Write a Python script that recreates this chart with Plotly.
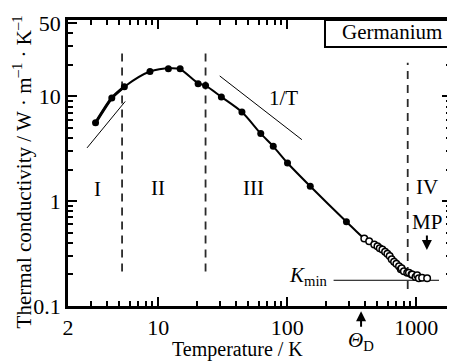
import numpy as np
import plotly.graph_objects as go

# ---- data ----
filled_T = [3.27, 4.37, 5.47, 8.64, 12.0, 14.8, 20.4, 23.3, 30.9, 44.6, 62.4, 78, 100.6, 151, 288]
filled_K = [5.6, 9.66, 12.4, 17.3, 18.4, 18.4, 13.2, 12.7, 9.9, 7.1, 4.42, 3.34, 2.32, 1.39, 0.637]

open_T = [396, 432, 473, 501, 522, 547, 574, 598, 623, 646, 674, 702, 736, 760, 771, 803,
          852, 879, 920, 931, 988, 1018, 1048, 1111, 1216]
open_K = [0.44, 0.416, 0.387, 0.372, 0.355, 0.347, 0.33, 0.315, 0.30, 0.279, 0.265, 0.253,
          0.24, 0.224, 0.229, 0.215, 0.208, 0.208, 0.20, 0.20, 0.189, 0.197, 0.184, 0.186, 0.184]

# smooth guide curve through the data
curve_T = [3.27, 4.37, 5.47, 8.64, 12.5, 14.8, 20.4, 23.3, 30.9, 44.6, 62.4, 78, 100.6, 151, 288,
           400, 520, 680, 850, 1000]
curve_K = [5.6, 9.66, 12.4, 17.3, 18.6, 18.2, 13.4, 12.7, 9.9, 7.1, 4.42, 3.34, 2.32, 1.39, 0.637,
           0.435, 0.355, 0.262, 0.212, 0.192]

# slope guide lines
low_T = [2.81, 5.55]
low_K = [3.23, 8.96]
invT_T = [30, 130]
invT_K = [15.7, 3.87]

kmin_T = [229, 1503]
kmin_K = [0.176, 0.176]

# region boundaries (dashed)
bound_T = [5.25, 23.3, 860]
bound_lo = [0.214, 0.214, 0.145]
bound_hi = [29, 29, 21]

region_labels = ["I", "II", "III", "IV"]
region_T = [3.4, 10, 55, 1216]
region_K = [1.3, 1.35, 1.35, 1.37]

theta_D = 374
melting_point = 1211

x_ticks = [2, 10, 100, 1000]
y_ticks = [0.1, 1, 10, 50]
x_minor = [3, 4, 5, 6, 7, 8, 9, 20, 30, 40, 50, 60, 70, 80, 90, 200, 300, 400, 500, 600, 700, 800, 900]
y_minor = [0.2, 0.3, 0.4, 0.5, 0.6, 0.7, 0.8, 0.9, 2, 3, 4, 5, 6, 7, 8, 9, 20, 30, 40]

FONT = "Liberation Serif"

fig = go.Figure()

# dashed region boundaries
for t, lo, hi in zip(bound_T, bound_lo, bound_hi):
    fig.add_trace(go.Scatter(x=[t, t], y=[lo, hi], mode="lines",
                             line=dict(color="#2a2a2a", width=1.8, dash="8px,6px"),
                             showlegend=False, hoverinfo="skip"))

# guide lines
fig.add_trace(go.Scatter(x=low_T, y=low_K, mode="lines", line=dict(color="black", width=1),
                         showlegend=False))
fig.add_trace(go.Scatter(x=invT_T, y=invT_K, mode="lines", line=dict(color="black", width=1),
                         showlegend=False))
fig.add_trace(go.Scatter(x=kmin_T, y=kmin_K, mode="lines", line=dict(color="black", width=1),
                         showlegend=False))

# smooth curve
fig.add_trace(go.Scatter(x=curve_T, y=curve_K, mode="lines",
                         line=dict(color="black", width=2, shape="spline", smoothing=0.8),
                         showlegend=False))
fig.add_trace(go.Scatter(x=curve_T[:3], y=curve_K[:3], mode="lines",
                         line=dict(color="black", width=3, shape="spline", smoothing=0.6),
                         showlegend=False))

# data
fig.add_trace(go.Scatter(x=filled_T, y=filled_K, mode="markers",
                         marker=dict(color="black", size=7), showlegend=False))
fig.add_trace(go.Scatter(x=open_T, y=open_K, mode="markers",
                         marker=dict(color="white", size=6.5, line=dict(color="black", width=1.5)),
                         showlegend=False))

txt = dict(family=FONT, size=21, color="black")
annotations = []
for lab, t, k in zip(region_labels, region_T, region_K):
    annotations.append(dict(x=np.log10(t), y=np.log10(k), xref="x", yref="y", text=lab,
                            xanchor="center", yanchor="middle", showarrow=False, font=txt))

annotations += [
    dict(x=np.log10(93), y=np.log10(9.7), xref="x", yref="y", text="1/T", showarrow=False,
         xanchor="center", yanchor="middle", font=txt),
    dict(x=np.log10(kmin_T[0]), y=np.log10(kmin_K[0]), xref="x", yref="y",
         text="<i>K</i><sub>min</sub>", showarrow=False, xanchor="right", yanchor="middle",
         xshift=-4, yshift=4, font=txt),
    dict(x=np.log10(theta_D), y=-0.018, xref="x", yref="paper",
         text="<i>Θ</i><sub>D</sub>", showarrow=True, ax=0, ay=30,
         arrowhead=2, arrowsize=1, arrowwidth=2, arrowcolor="black", font=txt),
    dict(x=np.log10(melting_point), y=0.196, xref="x", yref="paper",
         text="MP", showarrow=True, ax=0, ay=-28,
         arrowhead=2, arrowsize=1, arrowwidth=2, arrowcolor="black", font=txt),
    dict(x=0.846, y=0.958, xref="paper", yref="paper", text="Germanium", showarrow=False,
         xanchor="center", yanchor="middle", font=txt),
    dict(x=0.443, y=-0.153, xref="paper", yref="paper", text="Temperature / K", showarrow=False,
         xanchor="center", yanchor="middle", font=dict(family=FONT, size=20, color="black")),
    dict(x=-0.118, y=0.47, xref="paper", yref="paper", textangle=-90,
         text="Thermal conductivity / W\u00a0·\u00a0m<sup>–1</sup>\u00a0·\u00a0K<sup>–1</sup>",
         showarrow=False, xanchor="center", yanchor="middle", font=txt),
]

shapes = [
    dict(type="rect", xref="paper", yref="paper", x0=0.671, x1=1.0, y0=0.906, y1=1.0,
         line=dict(color="black", width=2), fillcolor="white", layer="above"),
]

axis_common = dict(type="log", showgrid=False, zeroline=False, showline=True, linecolor="black",
                   linewidth=2.5, mirror="ticks", ticks="inside", ticklen=9, tickwidth=1.5,
                   tickcolor="black", tickfont=dict(family=FONT, size=22, color="black"))

# page body adds an 8px offset; size the figure so the plot lands where the reference has it
fig.update_layout(
    width=447, height=354,
    margin=dict(l=60, r=1, t=12, b=56),
    paper_bgcolor="white", plot_bgcolor="white",
    xaxis=dict(range=[np.log10(2), 3.27], tickvals=x_ticks, ticktext=[str(v) for v in x_ticks],
               minor=dict(tickvals=x_minor, ticklen=5, tickwidth=1.5, tickcolor="black",
                          ticks="inside"),
               **axis_common),
    yaxis=dict(range=[-1, 1.73], tickvals=y_ticks, ticktext=["0.1", "1", "10", "50"],
               minor=dict(tickvals=y_minor, ticklen=5, tickwidth=1.5, tickcolor="black",
                          ticks="inside"),
               **axis_common),
    annotations=annotations,
    shapes=shapes,
)

fig.write_html("out.html")
